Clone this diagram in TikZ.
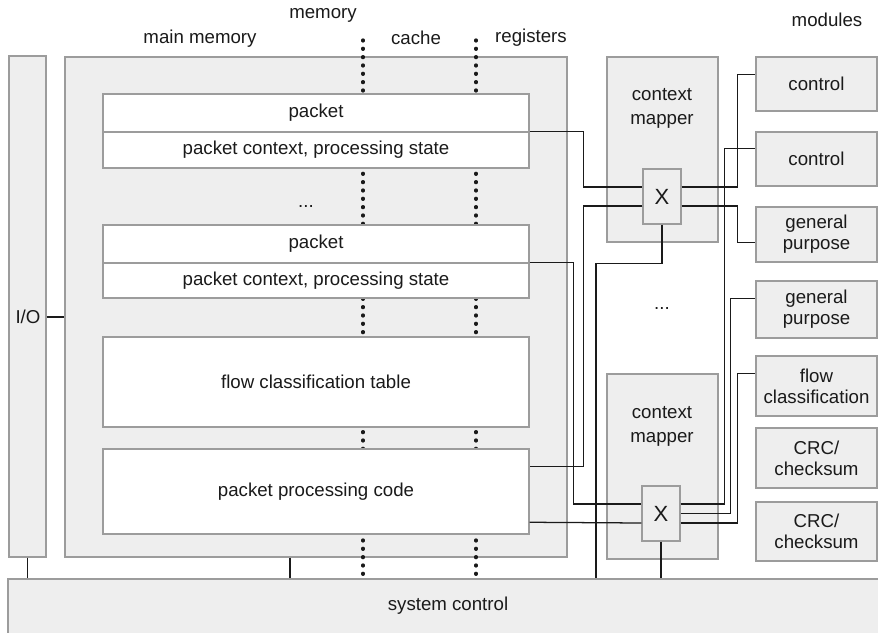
\documentclass[tikz,border=0pt]{standalone}
\usepackage{fontspec}
\setmainfont{Liberation Sans}
\usetikzlibrary{fit,calc}
\definecolor{panelfill}{HTML}{EEEEEE}
\definecolor{edgegray}{HTML}{9C9C9C}
\definecolor{ink}{HTML}{1A1A1A}
\tikzset{
  txt/.style={text=ink, inner sep=0pt, align=center, font=\fontsize{14}{15.75}\selectfont},
  panel/.style={draw=edgegray, fill=panelfill, line width=1.1pt, inner sep=0pt},
  slot/.style={draw=edgegray, fill=white, line width=1.1pt, inner sep=0pt},
  inlbl/.style={label={[txt]center:#1}},
  wire/.style={draw=ink, line width=0.95pt},
  dotline/.style={draw=ink, line width=2.5pt, line cap=round, dash pattern=on 0.7pt off 5.55pt},
  maplbl/.style={txt, font=\fontsize{14}{18}\selectfont},
  xlbl/.style={label={[txt, font=\fontsize{16.5}{18}\selectfont]center:X}},
}
\begin{document}
\begin{tikzpicture}[x=0.75pt,y=-0.75pt]
\useasboundingbox (0,0) rectangle (878,632);

% column headings
\node[txt] (hmem)  at (323,15) {memory};
\node[txt] (hmain) at (200,39) {main memory};
\node[txt] (hcache) at (416,38) {cache};
\node[txt] (hreg)  at (531,38) {registers};
\node[txt] (hmod)  at (827,20) {modules};

% large panels
\node[panel, fit={(9,56) (46,557)}] (io) {};
\node[txt] (iolbl) at (28,317) {I/O};
\node[panel, fit={(65,57) (567,557)}] (mem) {};
\node[panel, fit={(8,579) (884,640)}] (sys) {};
\node[txt] (syslbl) at (448,606) {system control};

% memory-hierarchy boundaries
\draw[dotline] (363,40) -- (363,578);
\draw[dotline] (476,40) -- (476,578);

% memory contents
\node[slot, fit={(103,94) (529,132)}, inlbl={packet}] (pk1) {};
\node[slot, fit={(103,132) (529,168)}, inlbl={packet context, processing state}] (pc1) {};
\node[txt] (dots1) at (306,206) {...};
\node[slot, fit={(103,225) (529,263)}, inlbl={packet}] (pk2) {};
\node[slot, fit={(103,263) (529,298)}, inlbl={packet context, processing state}] (pc2) {};
\node[slot, fit={(103,337) (529,427)}, inlbl={flow classification table}] (fct) {};
\node[slot, fit={(103,449) (529,534)}, inlbl={packet processing code}] (ppc) {};

% context mappers with crossbars
\node[panel, fit={(607,57) (718,242)}] (cm1) {};
\node[maplbl] (cm1lbl) at (662,108) {context\\mapper};
\node[panel, fit={(643,169) (681,224)}, xlbl] (x1) {};
\node[txt] (dots2) at (662,308) {...};
\node[panel, fit={(607,374) (718,559)}] (cm2) {};
\node[maplbl] (cm2lbl) at (662,426) {context\\mapper};
\node[panel, fit={(642,486) (680,541)}, xlbl] (x2) {};

% processing modules
\node[panel, fit={(756,57) (877,111)}, inlbl={control}] (m1) {};
\node[panel, fit={(756,132) (877,186)}, inlbl={control}] (m2) {};
\node[panel, fit={(756,207) (877,262)}, inlbl={general\\purpose}] (m3) {};
\node[panel, fit={(756,281) (877,338)}, inlbl={general\\purpose}] (m4) {};
\node[panel, fit={(756,356) (877,416)}, inlbl={flow\\classification}] (m5) {};
\node[panel, fit={(756,428) (877,488)}, inlbl={CRC/\\checksum}] (m6) {};
\node[panel, fit={(756,502) (877,561)}, inlbl={CRC/\\checksum}] (m7) {};

% connection ports
\coordinate (x1la) at ($(x1.west)+(0,-9.5)$);
\coordinate (x1lb) at ($(x1.west)+(0,9.5)$);
\coordinate (x1ra) at ($(x1.east)+(0,-9.5)$);
\coordinate (x1rb) at ($(x1.east)+(0,9.5)$);
\coordinate (x2la) at ($(x2.west)+(0,-9.5)$);
\coordinate (x2lc) at ($(x2.west)+(0,9.5)$);
\coordinate (x2ra) at ($(x2.east)+(0,-9.5)$);
\coordinate (x2rb) at (x2.east);
\coordinate (x2rc) at ($(x2.east)+(0,9.5)$);
\coordinate (ppa) at ($(ppc.north east)+(0,18)$);
\coordinate (ppb) at ($(ppc.north east)+(0,74)$);
\coordinate (m1a) at ($(m1.north west)+(0,18)$);
\coordinate (m2a) at ($(m2.north west)+(0,17)$);
\coordinate (m3a) at ($(m3.north west)+(0,36)$);
\coordinate (m4a) at ($(m4.north west)+(0,18)$);
\coordinate (m5a) at ($(m5.north west)+(0,18)$);
\coordinate (memtap) at ($(mem.south)+(-26,0)$);

% memory to crossbars
\draw[wire] (pc1.north east) -- ++(54,0) |- (x1la);
\draw[wire] (x1lb) -- ++(-59,0) |- (ppa);
\draw[wire] (pc2.north east) -- ++(44,0) |- (x2la);
\draw[wire] (ppb) -- (x2lc);

% crossbars to modules
\draw[wire] (x1ra) -- ++(56,0) |- (m1a);
\draw[wire] (x1rb) -- ++(56,0) |- (m3a);
\draw[wire] (x2ra) -- ++(44,0) |- (m2a);
\draw[wire] (x2rb) -- ++(50,0) |- (m4a);
\draw[wire] (x2rc) -- ++(57,0) |- (m5a);

% links to I/O and system control
\draw[wire] (io.east |- iolbl) -- (mem.west |- iolbl);
\draw[wire] (io.south) -- (io.south |- sys.north);
\draw[wire] (memtap) -- (memtap |- sys.north);
\draw[wire] (x1.south) -- ++(0,39) -- ++(-66,0) coordinate (drop) -- (drop |- sys.north);
\draw[wire] (x2.south) -- (x2.south |- sys.north);
\end{tikzpicture}
\end{document}
